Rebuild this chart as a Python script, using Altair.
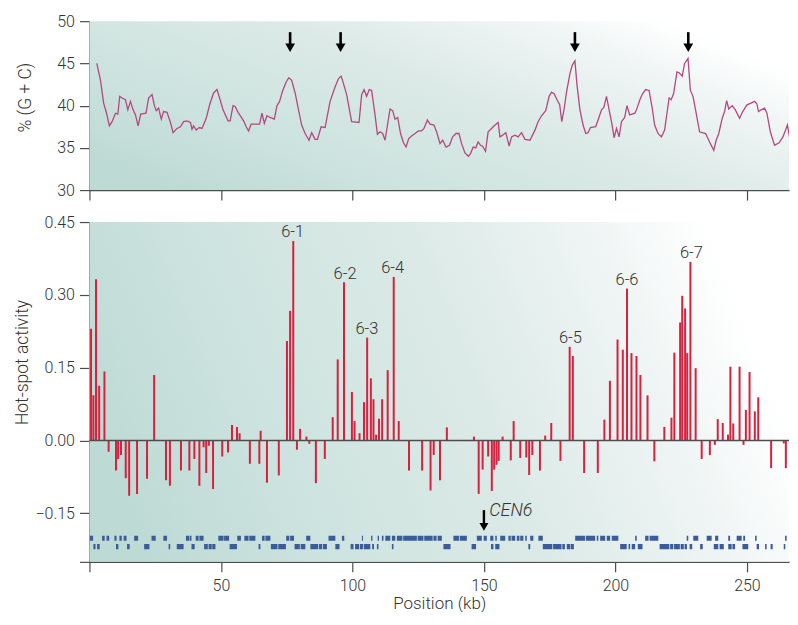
import altair as alt
import pandas as pd

# ---------------- data ----------------
X_MAX = 266.0   # visible part of the 0-269 kb axis

# % (G + C) profile along chromosome VI (kb, %)
gc_pos = [2.8, 4.2, 5.4, 6.5, 7.6, 8.6, 9.9, 10.8, 11.5, 12.4, 13.7, 14.6, 15.6, 16.6, 17.5, 18.5,
          19.5, 21.5, 22.5, 23.8, 24.7, 25.4, 26.3, 27.3, 28.2, 29.5, 30.8, 31.8, 33.3, 34.6, 35.8,
          37.1, 38.4, 39.0, 39.6, 40.6, 41.8, 42.8, 44.4, 45.7, 47.2, 48.5, 49.7, 50.8, 52.7, 53.5,
          54.6, 55.4, 56.5, 57.6, 58.6, 59.6, 60.5, 61.5, 63.7, 64.7, 65.6, 66.5, 67.5, 68.7, 70.3,
          71.3, 72.3, 73.5, 74.8, 75.8, 76.9, 78.2, 79.5, 80.7, 82.0, 83.5, 84.5, 85.8, 86.7, 88.1,
          89.6, 91.5, 93.4, 94.7, 95.7, 96.6, 97.8, 99.1, 99.7, 102.5, 103.5, 104.4, 105.4, 106.4,
          107.3, 108.6, 109.5, 110.5, 111.5, 112.4, 114.3, 115.3, 116.2, 117.2, 118.3, 119.4, 120.4,
          121.4, 122.5, 123.8, 125.1, 126.3, 127.2, 128.5, 129.5, 131.0, 132.0, 133.3, 134.3, 135.6,
          136.9, 138.1, 139.4, 140.5, 141.5, 142.8, 144.1, 144.9, 145.9, 146.9, 147.8, 148.7, 149.5,
          150.6, 151.6, 152.9, 154.2, 155.4, 156.1, 157.1, 158.3, 159.6, 160.5, 161.8, 163.0, 164.3,
          165.6, 167.5, 169.4, 170.6, 171.9, 173.5, 174.8, 175.7, 176.7, 177.8, 178.8, 179.6, 180.5,
          181.4, 182.7, 183.6, 184.6, 185.4, 186.5, 187.7, 188.7, 189.6, 190.5, 192.5, 193.4, 194.7,
          195.6, 196.6, 197.6, 198.5, 199.5, 200.4, 201.4, 202.3, 203.5, 204.4, 205.4, 207.4, 208.0,
          209.3, 210.3, 211.5, 212.8, 214.1, 214.9, 216.2, 217.5, 218.7, 219.6, 220.4, 221.2, 222.1,
          223.4, 224.2, 225.4, 226.3, 227.6, 228.5, 229.5, 230.7, 232.0, 233.0, 234.3, 235.8, 237.4,
          238.3, 239.3, 240.6, 241.5, 242.3, 243.1, 244.4, 245.6, 247.2, 248.4, 250.0, 251.6, 252.9,
          253.8, 254.4, 255.4, 256.7, 257.6, 258.9, 260.5, 262.2, 263.7, 265.4, 266.2, 267.5, 268.6]
gc_val = [45.0, 43.0, 40.3, 39.1, 37.6, 38.1, 39.1, 39.0, 41.1, 40.9, 40.7, 39.5, 40.5, 39.5, 38.9, 37.6,
          39.0, 39.1, 40.9, 41.3, 40.0, 39.4, 39.7, 38.4, 39.3, 39.2, 38.0, 36.8, 37.3, 37.5, 38.1,
          38.2, 38.0, 37.2, 37.6, 37.1, 37.4, 37.3, 38.5, 40.1, 41.5, 41.9, 40.7, 39.5, 38.2, 38.2,
          40.0, 39.9, 39.2, 38.7, 38.2, 37.5, 37.0, 37.8, 37.8, 37.8, 39.1, 37.9, 38.8, 38.6, 38.4,
          40.0, 40.5, 41.8, 42.8, 43.3, 43.0, 41.5, 39.5, 37.7, 36.7, 35.9, 36.8, 36.0, 36.0, 37.5,
          37.4, 40.5, 42.2, 43.2, 43.5, 42.6, 41.3, 39.1, 38.1, 38.0, 41.3, 41.9, 41.1, 41.9,
          41.8, 38.9, 36.6, 36.9, 36.7, 35.9, 39.6, 39.4, 38.4, 38.6, 36.7, 35.6, 35.1,
          36.1, 36.4, 36.7, 37.0, 37.0, 37.3, 38.3, 37.8, 37.7, 36.9, 35.5, 35.9, 35.1,
          35.3, 36.3, 36.7, 36.7, 35.5, 34.4, 34.0, 34.3, 35.1, 35.0, 35.7, 35.3, 35.2,
          34.6, 36.9, 37.3, 37.7, 38.0, 36.3, 36.5, 36.8, 35.2, 36.3, 36.5, 36.3, 36.8,
          36.0, 35.9, 37.1, 38.1, 38.8, 39.4, 41.1, 41.6, 41.4, 40.7, 40.1, 38.1, 39.6,
          41.6, 43.8, 44.8, 45.3, 42.4, 39.5, 37.7, 36.7, 36.8, 37.4, 37.5, 38.3, 39.5,
          39.8, 41.1, 39.5, 38.1, 36.2, 37.3, 36.3, 38.1, 38.6, 40.0, 38.9, 39.1, 39.5,
          40.7, 41.4, 41.9, 41.8, 39.5, 37.7, 36.7, 36.3, 37.1, 39.1, 40.9, 40.7, 41.4,
          44.0, 43.9, 43.5, 45.0, 45.6, 41.8, 41.1, 39.1, 36.9, 36.8, 36.7, 35.7, 34.7,
          35.9, 36.7, 38.5, 39.3, 40.6, 39.6, 40.0, 39.5, 38.5, 39.3, 40.1, 40.3, 40.5,
          40.2, 39.3, 39.5, 39.7, 39.1, 36.9, 35.3, 35.6, 36.3, 37.7, 36.3, 35.2, 36.3]

# GC peaks marked with arrows (kb)
peak_pos = [76.3, 95.5, 184.6, 227.7]

# Hot-spot activity bars (kb, activity)
hs_pos = [0.6, 1.5, 2.5, 3.7, 5.7, 24.6, 54.2, 56.1, 57.1, 65.1, 75.1, 76.3, 77.5, 80.1, 82.5,
          92.5, 94.4, 96.8, 99.8, 100.8, 102.7, 104.4, 105.6, 107.0, 108.0, 109.0, 110.1, 111.3,
          113.4, 115.7, 117.6, 135.9, 146.2, 157.1, 161.3, 173.3, 175.6, 182.6, 183.8, 195.8,
          197.9, 200.8, 202.8, 204.4, 206.1, 208.0, 209.5, 212.2, 218.6, 221.3, 222.4, 224.6,
          225.4, 226.5, 227.3, 228.5, 230.5, 238.9, 240.8, 242.8, 243.7, 244.8, 247.2, 249.6,
          251.0, 253.0, 254.3, 268.8,
          7.3, 10.1, 10.9, 12.0, 13.8, 15.1, 18.1, 21.9, 29.1, 30.6, 34.8, 38.0, 39.9, 41.8, 43.4,
          44.4, 45.4, 47.0, 50.5, 52.7, 61.0, 64.6, 67.5, 72.0, 78.9, 83.6, 86.1, 89.5, 121.5,
          126.5, 129.7, 130.9, 133.3, 148.0, 149.5, 151.6, 153.0, 153.9, 154.8, 155.6, 160.2,
          163.8, 166.1, 167.2, 168.4, 171.3, 179.1, 188.1, 193.3, 214.8, 232.8, 235.9, 237.8,
          248.7, 259.2, 264.0, 264.8]
hs_val = [0.230, 0.093, 0.332, 0.113, 0.142, 0.135, 0.032, 0.028, 0.015, 0.020, 0.205, 0.267, 0.411,
          0.024, 0.008, 0.048, 0.167, 0.326, 0.100, 0.040, 0.015, 0.079, 0.212, 0.128, 0.085, 0.012,
          0.045, 0.085, 0.145, 0.337, 0.040, 0.027, 0.008, 0.008, 0.040, 0.010, 0.036, 0.193, 0.174,
          0.043, 0.123, 0.208, 0.187, 0.313, 0.180, 0.174, 0.135, 0.093, 0.028, 0.047, 0.181, 0.243,
          0.298, 0.272, 0.180, 0.368, 0.149, 0.044, 0.036, 0.012, 0.152, 0.035, 0.152, 0.063,
          0.141, 0.060, 0.089, 0.024,
          -0.023, -0.062, -0.038, -0.030, -0.078, -0.114, -0.110, -0.079, -0.082, -0.093, -0.062,
          -0.062, -0.038, -0.093, -0.014, -0.067, -0.011, -0.100, -0.033, -0.025, -0.048, -0.048,
          -0.087, -0.072, -0.019, -0.007, -0.088, -0.038, -0.062, -0.062, -0.103, -0.030, -0.082,
          -0.110, -0.060, -0.033, -0.104, -0.060, -0.050, -0.042, -0.041, -0.036, -0.035, -0.071,
          -0.030, -0.062, -0.042, -0.067, -0.067, -0.043, -0.038, -0.030, -0.009, -0.009, -0.057,
          -0.006, -0.057]

# Named hot spots
spot_names = ["6-1", "6-2", "6-3", "6-4", "6-5", "6-6", "6-7"]
spot_pos = [77.3, 97.2, 105.5, 115.3, 182.9, 204.4, 228.9]
spot_val = [0.411, 0.326, 0.212, 0.337, 0.193, 0.313, 0.368]

# Gene map (two strands), kb
genes1_start = [0.1, 4.8, 6.5, 9.5, 11.4, 13.0, 17.0, 23.6, 28.1, 36.7, 38.2, 40.4, 41.8, 49.0, 51.2,
                56.2, 58.9, 60.8, 65.6, 66.9, 74.8, 76.3, 82.4, 90.9, 96.0, 103.6, 107.1, 109.6, 111.2,
                112.5, 115.0, 116.9, 119.3, 124.8, 127.3, 130.8, 132.4, 138.4, 140.8, 147.3, 149.9,
                152.4, 154.3, 156.2, 159.3, 160.5, 162.5, 163.8, 165.7, 167.6, 170.7, 184.7, 188.8,
                192.9, 194.2, 196.7, 198.6, 207.5, 211.3, 213.0, 227.1, 229.6, 234.7, 237.9, 242.9,
                246.1, 248.6, 253.1, 264.5, 268.6]
genes1_end = [1.4, 5.8, 7.5, 10.3, 12.3, 14.1, 18.5, 25.2, 29.5, 38.0, 38.8, 41.5, 43.4, 51.0, 53.1,
              57.6, 60.5, 63.1, 66.6, 68.8, 76.0, 77.8, 84.0, 93.5, 96.9, 104.0, 107.6, 110.1, 111.8,
              114.4, 116.3, 119.0, 124.5, 127.0, 130.5, 132.0, 134.0, 140.5, 143.5, 149.2, 151.1,
              153.6, 154.9, 158.1, 160.2, 161.9, 163.5, 165.0, 166.3, 168.8, 172.4, 188.5, 192.3,
              193.5, 196.1, 198.0, 201.1, 208.1, 212.6, 216.3, 227.7, 231.5, 236.6, 239.1, 243.6,
              248.0, 249.3, 253.7, 265.1, 269.0]
genes2_start = [1.5, 2.9, 10.1, 14.3, 20.8, 30.1, 33.2, 38.8, 43.6, 45.3, 46.7, 53.3, 64.3, 69.0, 71.8,
                78.0, 80.3, 84.0, 87.3, 88.8, 93.5, 99.3, 101.0, 102.8, 104.3, 107.5, 109.3, 115.0,
                134.6, 145.3, 152.7, 154.3, 166.9, 172.4, 176.3, 179.8, 181.5, 183.0, 201.8, 205.0,
                206.2, 208.5, 216.8, 220.8, 222.3, 224.8, 226.3, 228.2, 232.2, 237.4, 239.6, 242.9,
                244.5, 248.3, 253.7, 256.9, 259.0, 264.0]
genes2_end = [2.3, 3.9, 11.0, 15.3, 22.8, 30.7, 35.8, 40.0, 45.0, 46.5, 47.9, 56.1, 65.0, 71.5, 74.7,
              80.0, 82.1, 87.0, 88.5, 90.3, 95.1, 100.4, 102.5, 104.0, 106.8, 108.2, 109.9, 115.6,
              137.3, 147.0, 153.6, 155.9, 167.6, 176.0, 179.5, 180.8, 182.8, 184.2, 204.3, 205.6,
              207.5, 210.3, 220.5, 222.0, 224.5, 226.0, 227.2, 229.2, 233.2, 239.1, 241.2, 244.2,
              245.5, 250.5, 254.6, 257.5, 259.8, 264.6]

CEN_POS = 150.0

# ---------------- chart ----------------
W, H1, H2 = 700, 169, 340
FONT = "Roboto"
TXT = "#333333"

xscale = alt.Scale(domain=[0, X_MAX], nice=False, zero=False)
x_ticks = [0, 50, 100, 150, 200, 250]


def background(h, y1, y2):
    grad = alt.Gradient(
        gradient="linear",
        x1=0, y1=y1, x2=1, y2=y2,
        stops=[
            alt.GradientStop(color="#bedad4", offset=0.0),
            alt.GradientStop(color="#cde3df", offset=0.25),
            alt.GradientStop(color="#dceae7", offset=0.55),
            alt.GradientStop(color="#eff5f4", offset=0.8),
            alt.GradientStop(color="#ffffff", offset=0.96),
        ],
    )
    return alt.Chart(pd.DataFrame({"a": [0]})).mark_rect(fill=grad).encode(
        x=alt.value(0), x2=alt.value(W), y=alt.value(0), y2=alt.value(h)
    )


gc_df = pd.DataFrame({"pos": gc_pos, "gc": gc_val})
peak_df = pd.DataFrame({"pos": peak_pos, "top": 48.7, "bot": 47.3, "head": 46.85})

gc_line = alt.Chart(gc_df).mark_line(color="#b4487f", strokeWidth=1.3, clip=True).encode(
    x=alt.X("pos:Q", scale=xscale,
            axis=alt.Axis(values=x_ticks, labels=False, title=None, orient="bottom")),
    y=alt.Y("gc:Q", scale=alt.Scale(domain=[30, 50], nice=False, zero=False),
            axis=alt.Axis(values=[30, 35, 40, 45, 50], title="% (G + C)",
                          titlePadding=22, titleY=76)),
)
peak_rule = alt.Chart(peak_df).mark_rule(color="black", strokeWidth=2.6).encode(
    x="pos:Q", y="top:Q", y2="bot:Q"
)
peak_head = alt.Chart(peak_df).mark_point(
    shape="triangle-down", filled=True, size=95, color="black", opacity=1
).encode(x="pos:Q", y="head:Q")

top = alt.layer(background(H1, 0.8, 0.2), gc_line, peak_rule, peak_head).properties(
    width=W, height=H1)

hs_df = pd.DataFrame({"pos": hs_pos, "val": hs_val})
spot_df = pd.DataFrame({"name": spot_names, "pos": spot_pos, "val": spot_val})
g1 = pd.DataFrame({"s": genes1_start, "e": genes1_end, "y0": -0.196, "y1": -0.2065})
g2 = pd.DataFrame({"s": genes2_start, "e": genes2_end, "y0": -0.2135, "y1": -0.224})
genes_df = pd.concat([g1, g2], ignore_index=True)
cen_df = pd.DataFrame({"pos": [CEN_POS], "top": -0.1435, "bot": -0.172, "head": -0.178,
                       "tx": [CEN_POS + 2.0], "ty": [-0.145], "label": ["CEN6"]})

yscale2 = alt.Scale(domain=[-0.25, 0.45], nice=False, zero=False)

bars = alt.Chart(hs_df).mark_rule(color="#d5223f", strokeWidth=2, clip=True).encode(
    x=alt.X("pos:Q", scale=xscale,
            axis=alt.Axis(values=x_ticks, title="Position (kb)",
                          labelExpr="datum.value == 0 ? '' : datum.label",
                          labelPadding=6, titlePadding=1.5, titleFontSize=17)),
    y=alt.Y("val:Q", scale=yscale2,
            axis=alt.Axis(values=[-0.25, -0.15, 0, 0.15, 0.30, 0.45], format=".2f",
                          labelExpr="datum.value < -0.2 ? '' : datum.label",
                          title="Hot-spot activity", titlePadding=3, titleY=140)),
    y2=alt.datum(0),
)
zero_rule = alt.Chart(pd.DataFrame({"a": [0]})).mark_rule(color="#4d4d4d", strokeWidth=1.5).encode(
    y=alt.datum(0)
)
spot_text = alt.Chart(spot_df).mark_text(
    font=FONT, fontSize=16.5, fontWeight=300, color=TXT, baseline="alphabetic", dy=-3.5
).encode(x="pos:Q", y="val:Q", text="name:N")
genes = alt.Chart(genes_df).mark_rect(color="#3b5c98", clip=True).encode(
    x="s:Q", x2="e:Q", y="y0:Q", y2="y1:Q"
)
cen_rule = alt.Chart(cen_df).mark_rule(color="black", strokeWidth=2.4).encode(
    x="pos:Q", y="top:Q", y2="bot:Q"
)
cen_head = alt.Chart(cen_df).mark_point(
    shape="triangle-down", filled=True, size=80, color="black", opacity=1
).encode(x="pos:Q", y="head:Q")
cen_text = alt.Chart(cen_df).mark_text(
    font=FONT, fontSize=18, fontWeight=300, fontStyle="italic", color=TXT,
    align="left", baseline="middle"
).encode(x="tx:Q", y="ty:Q", text="label:N")

bottom = alt.layer(
    background(H2, 0.6, 0.4), bars, zero_rule, spot_text, genes, cen_rule, cen_head, cen_text
).properties(width=W, height=H2)

chart = alt.vconcat(top, bottom, spacing=32, bounds="flush").properties(
    padding={"left": 5.5, "top": 5, "right": 0, "bottom": 0}
).configure_view(stroke=None).configure_axis(
    labelFont=FONT, labelFontSize=16, labelColor=TXT, labelFontWeight=300,
    titleFont=FONT, titleFontSize=17.5, titleColor=TXT, titleFontWeight=300,
    domainColor="#4d4d4d", domainWidth=1.5, tickColor="#4d4d4d", tickWidth=1.2,
    tickSize=10, labelPadding=5, grid=False,
)

chart.save("out.html", embed_options={"renderer": "svg", "actions": False})
